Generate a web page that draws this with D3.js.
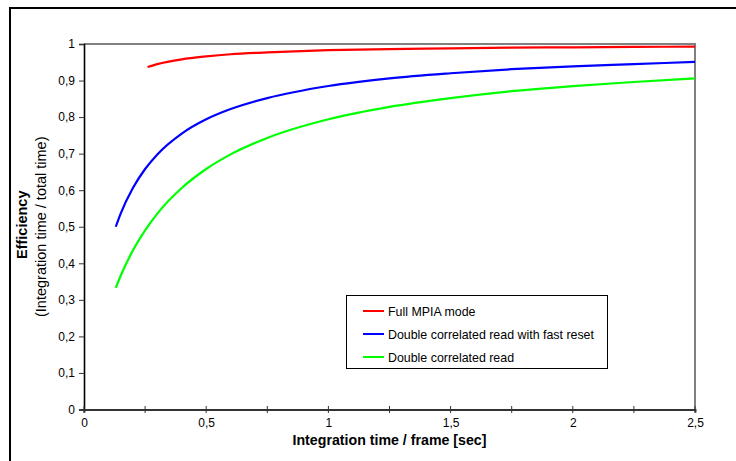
<!DOCTYPE html>
<html><head><meta charset="utf-8">
<script src="https://cdn.jsdelivr.net/npm/d3@7"></script>
<style>
html,body{margin:0;padding:0;background:#fff;}
svg{display:block;font-family:"Liberation Sans",Arial,sans-serif;}
</style></head>
<body><svg id="c" width="736" height="461"></svg>
<script>
// Data
const seriesNames = ["Full MPIA mode", "Double correlated read with fast reset", "Double correlated read"];
const seriesColors = ["#ff0000", "#0000ff", "#00ff00"];
const redT   = [0.26, 0.3, 0.4, 0.5, 0.6, 0.75, 1.0, 1.25, 1.5, 1.75, 2.0, 2.25, 2.5];
const redV   = [0.937, 0.945, 0.958, 0.966, 0.972, 0.977, 0.983, 0.986, 0.988, 0.990, 0.991, 0.992, 0.993];
const blueT  = [0.13, 0.15, 0.2, 0.25, 0.3, 0.4, 0.5, 0.6, 0.75, 1.0, 1.25, 1.5, 1.75, 2.0, 2.25, 2.5];
const blueV  = [0.500, 0.536, 0.606, 0.658, 0.698, 0.755, 0.794, 0.822, 0.852, 0.885, 0.906, 0.920, 0.931, 0.939, 0.945, 0.951];
const greenT = [0.13, 0.15, 0.2, 0.25, 0.3, 0.4, 0.5, 0.6, 0.75, 1.0, 1.25, 1.5, 1.75, 2.0, 2.25, 2.5];
const greenV = [0.333, 0.366, 0.435, 0.490, 0.536, 0.606, 0.658, 0.698, 0.743, 0.794, 0.828, 0.852, 0.871, 0.885, 0.896, 0.906];
const xTicks = [0, 0.5, 1, 1.5, 2, 2.5];
const xMinorTicks = [0, 0.25, 0.5, 0.75, 1, 1.25, 1.5, 1.75, 2, 2.25, 2.5];
const yTicks = [0, 0.1, 0.2, 0.3, 0.4, 0.5, 0.6, 0.7, 0.8, 0.9, 1];
const xTitle = "Integration time / frame [sec]";
const yTitle1 = "Efficiency";
const yTitle2 = "(Integration time / total time)";

const svg = d3.select("#c");
const L = 84, R = 695, T = 44, B = 409.5;
const x = d3.scaleLinear().domain([0, 2.5]).range([L, R]);
const y = d3.scaleLinear().domain([0, 1]).range([B, T]);
const fmt = d => String(d).replace(".", ",");

// outer frame
svg.append("rect").attr("x", 10).attr("y", 8).attr("width", 800).attr("height", 500)
  .attr("fill", "none").attr("stroke", "#000").attr("stroke-width", 2);

// plot border (top/right gray)
svg.append("path").attr("d", `M${L},${T}H${R}V${B}`).attr("fill", "none")
  .attr("stroke", "#808080").attr("stroke-width", 2);

// lines
const line = d3.line().x(d => x(d[0])).y(d => y(d[1])).curve(d3.curveMonotoneX);
const series = [d3.zip(redT, redV), d3.zip(blueT, blueV), d3.zip(greenT, greenV)];
series.forEach((s, i) => {
  svg.append("path").datum(s).attr("d", line).attr("fill", "none")
    .attr("stroke", seriesColors[i]).attr("stroke-width", 2.2);
});

// y axis
const yAxis = d3.axisLeft(y).tickValues(yTicks).tickFormat(fmt).tickSize(5).tickPadding(4);
const gy = svg.append("g").attr("transform", `translate(${L},0)`).call(yAxis);
gy.select(".domain").attr("stroke", "#000").attr("stroke-width", 1.6);
gy.selectAll(".tick line").attr("stroke", "#333").attr("stroke-width", 1);
gy.selectAll(".tick text").attr("font-size", 12).attr("fill", "#000")
  .attr("font-family", "'Liberation Sans',Arial,sans-serif");

// x axis
const xAxis = d3.axisBottom(x).tickValues(xTicks).tickFormat(fmt).tickSize(3).tickPadding(6);
const gx = svg.append("g").attr("transform", `translate(0,${B})`).call(xAxis);
gx.select(".domain").attr("stroke", "#333").attr("stroke-width", 2);
gx.selectAll(".tick line").remove();
gx.selectAll(".tick text").attr("font-size", 12).attr("fill", "#000")
  .attr("font-family", "'Liberation Sans',Arial,sans-serif");
gx.selectAll(".minor").data(xMinorTicks).enter().append("line")
  .attr("x1", d => x(d)).attr("x2", d => x(d)).attr("y1", -3.5).attr("y2", 3.5)
  .attr("stroke", "#333").attr("stroke-width", 1);

// axis titles
svg.append("text").attr("x", (L + R) / 2).attr("y", 445).attr("text-anchor", "middle")
  .attr("font-weight", "bold").attr("font-size", 14.2).text(xTitle);
svg.append("text").attr("transform", `translate(27,${(T + B) / 2 - 2}) rotate(-90)`)
  .attr("text-anchor", "middle").attr("font-weight", "bold").attr("font-size", 14.5).text(yTitle1);
svg.append("text").attr("transform", `translate(46,${(T + B) / 2}) rotate(-90)`)
  .attr("text-anchor", "middle").attr("font-size", 14.5).text(yTitle2);

// legend
const lg = svg.append("g");
lg.append("rect").attr("x", 346.5).attr("y", 295.5).attr("width", 261).attr("height", 73)
  .attr("fill", "#fff").attr("stroke", "#000").attr("stroke-width", 1);
seriesNames.forEach((n, i) => {
  const yy = 311 + i * 23;
  lg.append("line").attr("x1", 363).attr("x2", 384).attr("y1", yy).attr("y2", yy)
    .attr("stroke", seriesColors[i]).attr("stroke-width", 2);
  lg.append("text").attr("x", 388).attr("y", yy + 4.5).attr("font-size", 12.4).text(n);
});
</script></body></html>
